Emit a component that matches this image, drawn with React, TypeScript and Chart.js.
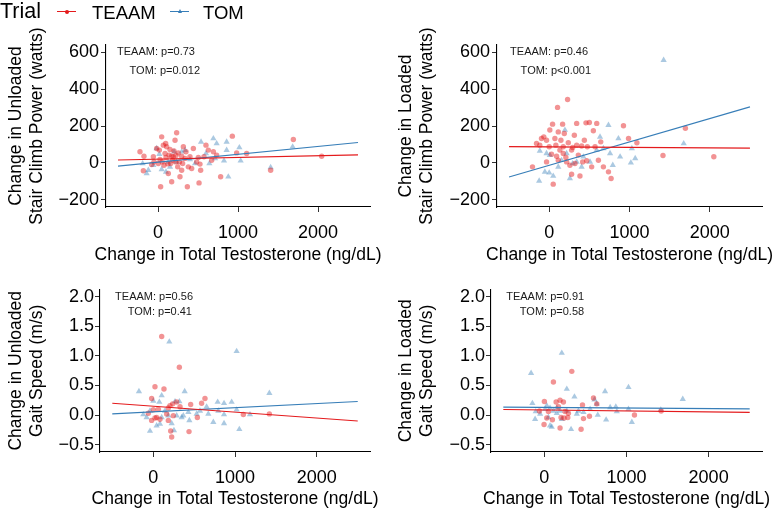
import React, { useEffect, useRef } from 'react';
import { Chart, registerables } from 'chart.js';
Chart.register(...registerables);

const FONT = '"Liberation Sans", Arial, Helvetica, sans-serif';
const RED = '#E41A1C';
const BLUE = '#377EB8';
const RED_PT = 'rgba(228,26,28,0.47)';
const BLUE_PT = 'rgba(55,126,184,0.42)';

// ---- shared axis data ----
const xTicks = [0, 1000, 2000];
const powerTicks = [-200, 0, 200, 400, 600];
const speedTicks = [-0.5, 0, 0.5, 1.0, 1.5, 2.0];
const fitX = [-500, 2500];
const seriesNames = ['TEAAM', 'TOM'];
const xTitle = 'Change in Total Testosterone (ng/dL)';

// ---- Unloaded stair climb power ----
const upRedX = [-225, -175, -183, -79, -58, -17, 17, 33, 46, 67, 88, 100, 121, 129, 150, 171, 183, 213, 225, 233, 254, 267, 275, 296, 317, 338, 367, 379, 400, 421, 442, 483, 513, 533, 575, 600, 629, 671, 692, 783, 929, 983, 1108, 1408, 1692, 2046, 54, 75, 108, 138, 158, 192, 200, 221, 246, 296, 308, 350, 4, 25, 96, -50, 171, 504, 733, 525];
const upRedY = [60, 36, -43, -9, 33, 78, 69, -130, 141, 96, 51, 29, -5, -58, 72, 36, 14, 123, 40, 163, 54, 5, -76, -40, 87, 24, -130, -22, 33, -31, 78, 5, -109, -40, 33, 96, 69, 14, 60, -76, 145, 54, 51, -40, 127, 36, 5, -13, 87, 42, -4, 33, 65, 5, -22, 36, -4, 60, -4, 18, 105, 5, -103, 29, 42, -7];
const upBlueX = [-121, -142, -192, -17, 17, 46, 100, 129, 200, 296, 338, 400, 463, 538, 600, 692, 733, 858, 858, 825, 879, 713, 1017, 1033, 1408, 1683, 642, 233, -58, 150];
const upBlueY = [-40, -58, -4, 78, 47, -36, -49, 5, 60, 60, 69, 18, -4, 114, 51, 132, 105, 114, 69, 11, -76, 24, 83, 11, -25, 87, -4, 5, -13, -22];
const upRedFit = [15, 43];
const upBlueFit = [-18, 110];

// ---- Loaded stair climb power ----
const lpRedX = [-208, -158, -96, -67, -33, 0, 8, 42, 50, 71, 83, 92, 104, 113, 133, 146, 167, 175, 188, 208, 229, 238, 258, 279, 292, 313, 321, 342, 363, 383, 404, 417, 438, 458, 475, 500, 529, 550, 592, 613, 642, 675, 738, 771, 925, 988, 1092, 1417, 1696, 2050, -33, 29, 113, 217, 279, 342, 175, -117, 571, 467];
const lpRedY = [-22, 105, 132, 141, 123, 87, 178, 210, -116, 132, 96, 36, 301, 168, 69, 123, 210, 51, 159, 29, 344, 109, -13, -62, 83, 150, -4, 214, 42, -72, 91, 5, 123, 217, 87, 219, -22, 174, 214, 14, 114, -22, -49, -85, 201, 132, 109, 40, 188, 33, 5, 47, 14, 5, 69, 96, 87, 96, 87, 11];
const lpBlueX = [-125, -54, 0, 50, -117, -33, 8, 196, 258, 154, 217, 292, 342, 404, 508, 592, 633, 675, 738, 758, 862, 883, 1029, 1071, 1017, 1425, 1675, 792, 425, 113];
const lpBlueY = [-98, -49, -54, -72, 65, 51, 42, 178, -85, 14, 51, -4, 5, -22, 5, 69, 141, 78, 205, 51, 132, 33, 78, 24, 0, 558, 105, -13, 33, -22];
const lpRedFit = [88, 80];
const lpBlueFit = [-77, 304];

// ---- Unloaded gait speed ----
const ugRedX = [104, 320, 22, 132, -19, 633, 592, 458, 540, 287, 238, 205, 185, 328, -59, -19, 42, 83, 185, 214, 226, 438, 1102, 1420, 2, 63, 246, 22, 165];
const ugRedY = [1.33, 0.81, 0.48, 0.44, 0.28, 0.28, 0.2, 0.18, -0.04, 0.22, 0.19, 0.16, 0.12, 0.14, 0.03, -0.09, -0.04, -0.07, -0.09, -0.27, -0.37, -0.28, 0.01, 0.02, 0.09, 0.1, -0.01, -0.05, 0.02];
const ugBlueX = [197, 1020, -174, 104, 385, 1420, 788, 866, 959, 735, 866, 1053, 1183, -39, 42, 83, 226, 254, 442, -121, 2, 75, 267, 320, 368, 287, 531, 572, 653, 796, 866, 1020, 348, -39, -80, 144, 185, 430, 674, 104];
const ugBlueY = [1.24, 1.08, 0.4, 0.33, 0.4, 0.37, 0.22, 0.2, 0.22, -0.12, -0.14, -0.24, 0.01, -0.27, -0.18, -0.15, -0.14, -0.26, -0.09, 0.01, 0.24, 0.22, 0.23, 0.23, -0.01, -0.01, 0.02, 0.07, 0.14, 0.07, 0.01, 0.09, -0.04, 0.07, -0.04, 0.07, -0.01, 0.05, 0.02, -0.04];
const ugRedFit = [0.2, -0.1];
const ugBlueFit = [0.02, 0.23];

// ---- Loaded gait speed ----
const lgRedX = [334, 110, 0, 143, 191, 232, 171, 464, 598, 638, 1097, 1422, -60, 29, 98, 49, 252, 293, 240, 203, -4, 191, 447, 476, 549, 285];
const lgRedY = [0.74, 0.56, 0.23, 0.22, 0.25, 0.22, 0.14, 0.17, 0.29, 0.19, 0.0, 0.07, 0.07, -0.05, -0.08, 0.06, 0.06, 0.03, -0.05, -0.04, -0.16, -0.22, -0.24, -0.06, -0.02, -0.04];
const lgBlueX = [212, -162, 739, 1024, 273, 366, -146, 29, 69, -105, -52, -113, 69, 90, 325, 610, 638, 801, 870, 882, 1024, 1065, 752, 557, 476, 415, 395, 273, 191, 151, 151, 212, 650, 1418, 1685, 9, 49, 110];
const lgBlueY = [1.05, 0.71, 0.4, 0.47, 0.44, 0.31, 0.2, 0.16, 0.12, 0.06, 0.02, -0.07, -0.18, -0.2, -0.24, 0.26, 0.19, 0.13, 0.14, 0.06, 0.1, -0.12, -0.08, 0.1, 0.05, 0.07, 0.02, 0.07, 0.07, 0.03, 0.12, -0.07, 0.0, 0.09, 0.27, 0.1, -0.04, 0.07];
const lgRedFit = [0.095, 0.045];
const lgBlueFit = [0.135, 0.105];

const pTexts = {
  up: ['TEAAM: p=0.73', 'TOM: p=0.012'],
  lp: ['TEAAM: p=0.46', 'TOM: p<0.001'],
  ug: ['TEAAM: p=0.56', 'TOM: p=0.41'],
  lg: ['TEAAM: p=0.91', 'TOM: p=0.58'],
};

const pts = (xs: number[], ys: number[]) => xs.map((x, i) => ({ x, y: ys[i] }));
const minus = (s: string) => s.replace('-', '\u2212');

const annotPlugin = {
  id: 'pAnnot',
  afterDatasetsDraw(chart: any, _args: any, opts: any) {
    const { ctx } = chart;
    const xs = chart.scales.x;
    const ys = chart.scales.y;
    ctx.save();
    ctx.font = `11px ${FONT}`;
    ctx.fillStyle = '#1a1a1a';
    ctx.textAlign = 'right';
    ctx.textBaseline = 'middle';
    (opts.items || []).forEach((a: any) => {
      ctx.fillText(a.text, xs.getPixelForValue(a.x), ys.getPixelForValue(a.y));
    });
    ctx.restore();
  },
};

// axis titles drawn without Chart.js's maxWidth squeeze
const titlesPlugin = {
  id: 'axTitles',
  afterDraw(chart: any, _args: any, opts: any) {
    const { ctx, chartArea: ca } = chart;
    ctx.save();
    ctx.font = `17.5px ${FONT}`;
    ctx.fillStyle = '#000';
    ctx.textAlign = 'center';
    ctx.textBaseline = 'middle';
    ctx.fillText(opts.xTitle, (ca.left + ca.right) / 2, opts.xTitleY);
    const cy = (ca.top + ca.bottom) / 2;
    (opts.yTitle as string[]).forEach((t, i) => {
      ctx.save();
      ctx.translate(opts.yTitleX + i * 21, cy);
      ctx.rotate(-Math.PI / 2);
      ctx.fillText(t, 0, 0);
      ctx.restore();
    });
    ctx.restore();
  },
};

type PanelDef = {
  left: number; top: number; w: number; h: number;
  yW: number; xH: number; padTop: number; padRight: number;
  yTitle: string[]; yMin: number; yMax: number; yTicks: number[]; dec: number; yPad: number;
  redX: number[]; redY: number[]; blueX: number[]; blueY: number[];
  redFit: number[]; blueFit: number[];
  texts: string[]; annX: number[]; annY: number[];
  xTitleY: number;
};

const panels: PanelDef[] = [
  {
    left: 0, top: 20, w: 388, h: 246, yW: 106, xH: 59, padTop: 25, padRight: 18,
    yTitle: ['Change in Unloaded', 'Stair Climb Power (watts)'], yMin: -240, yMax: 640, yTicks: powerTicks, dec: 0, yPad: 2,
    redX: upRedX, redY: upRedY, blueX: upBlueX, blueY: upBlueY, redFit: upRedFit, blueFit: upBlueFit,
    texts: pTexts.up, annX: [462, 525], annY: [600, 500], xTitleY: 235,
  },
  {
    left: 390, top: 20, w: 386, h: 246, yW: 107, xH: 59, padTop: 25, padRight: 14,
    yTitle: ['Change in Loaded', 'Stair Climb Power (watts)'], yMin: -240, yMax: 640, yTicks: powerTicks, dec: 0, yPad: 2,
    redX: lpRedX, redY: lpRedY, blueX: lpBlueX, blueY: lpBlueY, redFit: lpRedFit, blueFit: lpBlueFit,
    texts: pTexts.lp, annX: [484, 521], annY: [600, 500], xTitleY: 235,
  },
  {
    left: 0, top: 265, w: 388, h: 245, yW: 100, xH: 58, padTop: 24.5, padRight: 18,
    yTitle: ['Change in Unloaded', 'Gait Speed (m/s)'], yMin: -0.625, yMax: 2.125, yTicks: speedTicks, dec: 1, yPad: 1,
    redX: ugRedX, redY: ugRedY, blueX: ugBlueX, blueY: ugBlueY, redFit: ugRedFit, blueFit: ugBlueFit,
    texts: pTexts.ug, annX: [487, 474], annY: [2.0, 1.75], xTitleY: 234,
  },
  {
    left: 390, top: 265, w: 386, h: 245, yW: 101, xH: 58, padTop: 24.5, padRight: 14,
    yTitle: ['Change in Loaded', 'Gait Speed (m/s)'], yMin: -0.625, yMax: 2.125, yTicks: speedTicks, dec: 1, yPad: 1,
    redX: lgRedX, redY: lgRedY, blueX: lgBlueX, blueY: lgBlueY, redFit: lgRedFit, blueFit: lgBlueFit,
    texts: pTexts.lg, annX: [484, 484], annY: [2.0, 1.75], xTitleY: 234,
  },
];

function Panel({ p }: { p: PanelDef }) {
  const ref = useRef<HTMLCanvasElement | null>(null);
  useEffect(() => {
    if (!ref.current) return;
    const tickFont = { family: FONT, size: 18 };
    const chart = new Chart(ref.current, {
      type: 'scatter',
      data: {
        datasets: [
          { type: 'line', label: seriesNames[0] + ' fit', data: pts(fitX, p.redFit), borderColor: RED, borderWidth: 1.1, pointRadius: 0, fill: false, order: 0 } as any,
          { type: 'line', label: seriesNames[1] + ' fit', data: pts(fitX, p.blueFit), borderColor: BLUE, borderWidth: 1.1, pointRadius: 0, fill: false, order: 0 } as any,
          { label: seriesNames[0], data: pts(p.redX, p.redY), pointStyle: 'circle', pointRadius: 2.7, backgroundColor: RED_PT, borderWidth: 0, order: 1 },
          { label: seriesNames[1], data: pts(p.blueX, p.blueY), pointStyle: 'triangle', pointRadius: 3.6, backgroundColor: BLUE_PT, borderWidth: 0, order: 2 },
        ],
      },
      options: {
        animation: false,
        responsive: false,
        devicePixelRatio: 1,
        layout: { padding: { top: p.padTop, right: p.padRight, left: 0, bottom: 0 } },
        plugins: {
          legend: { display: false },
          tooltip: { enabled: false },
          pAnnot: { items: p.texts.map((t, i) => ({ text: t, x: p.annX[i], y: p.annY[i] })) },
          axTitles: { xTitle, xTitleY: p.xTitleY, yTitle: p.yTitle, yTitleX: 16 },
        } as any,
        scales: {
          x: {
            type: 'linear', min: -650, max: 2650,
            afterBuildTicks: (s: any) => { s.ticks = xTicks.map((v) => ({ value: v })); },
            afterFit: (s: any) => { s.height = p.xH; },
            ticks: { autoSkip: false, maxRotation: 0, color: '#000', font: tickFont, padding: 10, callback: (v: any) => minus(String(v)) },
            grid: { display: true, drawOnChartArea: false, drawTicks: true, tickLength: 5, color: '#333', lineWidth: 1 },
            border: { display: true, color: '#000', width: 1.1 },
            title: { display: false },
          },
          y: {
            type: 'linear', min: p.yMin, max: p.yMax,
            afterBuildTicks: (s: any) => { s.ticks = p.yTicks.map((v) => ({ value: v })); },
            afterFit: (s: any) => { s.width = p.yW; },
            ticks: { autoSkip: false, color: '#000', font: tickFont, padding: p.yPad, callback: (v: any) => minus(Number(v).toFixed(p.dec)) },
            grid: { display: true, drawOnChartArea: false, drawTicks: true, tickLength: 5, color: '#333', lineWidth: 1 },
            border: { display: true, color: '#000', width: 1.1 },
            title: { display: false },
          },
        },
      },
      plugins: [annotPlugin, titlesPlugin],
    } as any);
    return () => chart.destroy();
  }, [p]);
  return (
    <canvas
      ref={ref}
      width={p.w}
      height={p.h}
      style={{ position: 'absolute', left: p.left, top: p.top, width: p.w, height: p.h, display: 'block' }}
    />
  );
}

function Legend() {
  const txt: React.CSSProperties = { position: 'absolute', fontFamily: FONT, color: '#000', whiteSpace: 'nowrap', lineHeight: 'normal' };
  return (
    <>
      <div style={{ ...txt, left: 0, top: -1, fontSize: 21.5 }}>Trial</div>
      <div style={{ position: 'absolute', left: 57, top: 11, width: 19, height: 1.2, background: RED }} />
      <div style={{ position: 'absolute', left: 64.5, top: 9.5, width: 4, height: 4, borderRadius: 2, background: RED }} />
      <div style={{ ...txt, left: 92, top: 1.5, fontSize: 18.5 }}>{seriesNames[0]}</div>
      <div style={{ position: 'absolute', left: 170, top: 11, width: 19, height: 1.2, background: BLUE }} />
      <div style={{ position: 'absolute', left: 177.5, top: 8.5, width: 0, height: 0, borderLeft: '2.5px solid transparent', borderRight: '2.5px solid transparent', borderBottom: `4px solid ${BLUE}` }} />
      <div style={{ ...txt, left: 203, top: 1.5, fontSize: 18.5 }}>{seriesNames[1]}</div>
    </>
  );
}

export default function App() {
  return (
    <div style={{ position: 'absolute', left: 0, top: 0, width: 776, height: 510, background: '#fff', overflow: 'hidden' }}>
      {panels.map((p, i) => <Panel key={i} p={p} />)}
      <Legend />
    </div>
  );
}
